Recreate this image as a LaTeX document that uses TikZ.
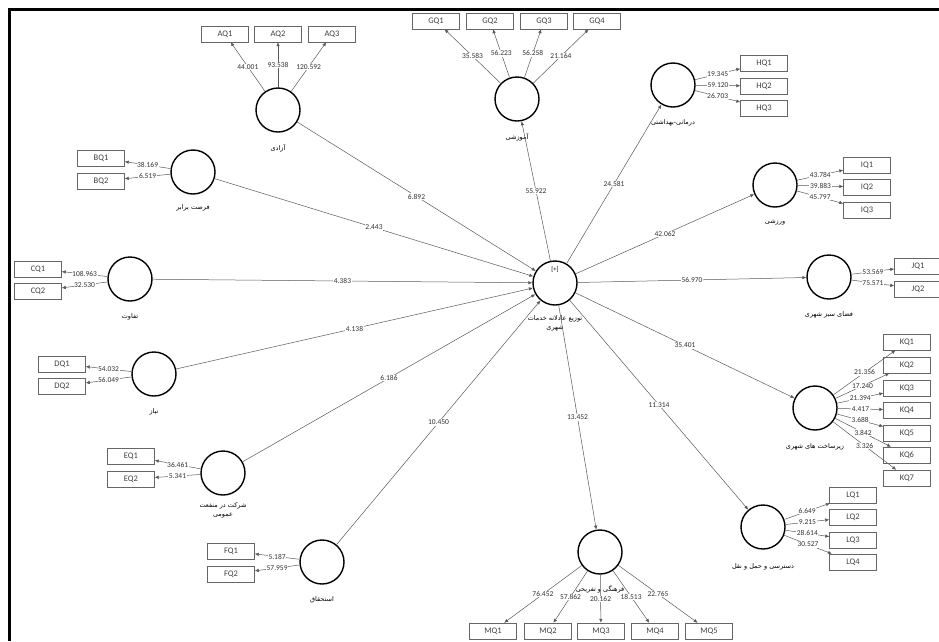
\documentclass[tikz,border=0pt]{standalone}
\usepackage{fontspec}
\setmainfont{Carlito}
\newfontfamily\fafont[Script=Arabic]{DejaVu Sans}
\TeXXeTstate=1
\usepackage{tikz}
\usetikzlibrary{arrows.meta,positioning}
\newcommand{\pers}[1]{{\fafont\beginR#1\endR}}

\begin{document}
\begin{tikzpicture}[x=1pt, y=-1pt,
  lv/.style={circle, draw, line width=1.4pt, minimum size=44pt, inner sep=0pt},
  ind/.style={draw=black!60, minimum width=47pt, minimum height=16pt,
              inner sep=0pt, font=\fontsize{8.5}{9}\selectfont, text=black!75},
  arr/.style={-{Latex[length=4pt,width=3.5pt]}, black!65, line width=0.5pt},
  val/.style={fill=white, inner sep=0.6pt, font=\fontsize{7.5}{8}\selectfont, text=black!80},
  lvname/.style={font=\fontsize{6.5}{9}\selectfont, align=center}
]
\useasboundingbox (0,0) rectangle (939,641);
\draw[line width=3pt] (9.5,641) -- (9.5,9.5) -- (939,9.5);

\node[lv] (hub) at (555,283) {};
\node[font=\fontsize{6.5}{7}\selectfont, below=3pt of hub.north] (plus) {[+]};
\node[lvname, below=6pt of hub] (hubname)
  {\pers{توزیع عادلانه خدمات}\\\pers{شهری}};

\node[lv] (A) at (278,110) {};
\node[lvname, below=8pt of A] (Aname) {\pers{آزادی}};
\node[lv] (B) at (193,172) {};
\node[lvname, below=6pt of B] (Bname) {\pers{فرصت برابر}};
\node[lv] (C) at (130,279) {};
\node[lvname, below=8pt of C] (Cname) {\pers{تفاوت}};
\node[lv] (D) at (154,374) {};
\node[lvname, below=8pt of D] (Dname) {\pers{نیاز}};
\node[lv] (E) at (223,473) {};
\node[lvname, below=3pt of E] (Ename) {\pers{شرکت در منفعت}\\\pers{عمومی}};
\node[lv] (F) at (322,562) {};
\node[lvname, below=8pt of F] (Fname) {\pers{استحقاق}};

\node[lv] (G) at (517,99) {};
\node[lvname, below=8pt of G] (Gname) {\pers{آموزشی}};
\node[lv] (H) at (673,85) {};
\node[lvname, below=8pt of H] (Hname) {\pers{درمانی-بهداشتی}};
\node[lv] (I) at (775,185) {};
\node[lvname, below=8pt of I] (Iname) {\pers{ورزشی}};
\node[lv] (J) at (829,277) {};
\node[lvname, below=8pt of J] (Jname) {\pers{فضای سبز شهری}};
\node[lv] (K) at (815,408) {};
\node[lvname, below=9pt of K] (Kname) {\pers{زیرساخت های شهری}};
\node[lv] (L) at (763,527) {};
\node[lvname, below=10pt of L] (Lname) {\pers{دسترسی و حمل و نقل}};
\node[lv] (M) at (600,552) {};
\node[lvname, below=7pt of M] (Mname) {\pers{فرهنگی و تفریحی}};

\node[ind] (AQ1) at (225,34) {AQ1};
\node[ind] (AQ2) at (278,34) {AQ2};
\node[ind] (AQ3) at (332,34) {AQ3};
\node[ind] (BQ1) at (101,158) {BQ1};
\node[ind] (BQ2) at (101,181) {BQ2};
\node[ind] (CQ1) at (38,269) {CQ1};
\node[ind] (CQ2) at (38,291) {CQ2};
\node[ind] (DQ1) at (62,364) {DQ1};
\node[ind] (DQ2) at (62,386) {DQ2};
\node[ind] (EQ1) at (131,456) {EQ1};
\node[ind] (EQ2) at (131,479) {EQ2};
\node[ind] (FQ1) at (231,551) {FQ1};
\node[ind] (FQ2) at (231,574) {FQ2};
\node[ind] (GQ1) at (436,21) {GQ1};
\node[ind] (GQ2) at (490,21) {GQ2};
\node[ind] (GQ3) at (544,21) {GQ3};
\node[ind] (GQ4) at (597,21) {GQ4};
\node[ind] (HQ1) at (764,63) {HQ1};
\node[ind] (HQ2) at (764,86) {HQ2};
\node[ind] (HQ3) at (764,108) {HQ3};
\node[ind] (IQ1) at (867,165) {IQ1};
\node[ind] (IQ2) at (867,187) {IQ2};
\node[ind] (IQ3) at (867,210) {IQ3};
\node[ind] (JQ1) at (918,266) {JQ1};
\node[ind] (JQ2) at (918,289) {JQ2};
\node[ind] (KQ1) at (907,342) {KQ1};
\node[ind] (KQ2) at (907,365) {KQ2};
\node[ind] (KQ3) at (907,388) {KQ3};
\node[ind] (KQ4) at (907,410) {KQ4};
\node[ind] (KQ5) at (907,433) {KQ5};
\node[ind] (KQ6) at (907,455) {KQ6};
\node[ind] (KQ7) at (907,478) {KQ7};
\node[ind] (LQ1) at (853,495) {LQ1};
\node[ind] (LQ2) at (853,517) {LQ2};
\node[ind] (LQ3) at (853,540) {LQ3};
\node[ind] (LQ4) at (853,562) {LQ4};
\node[ind] (MQ1) at (493,631) {MQ1};
\node[ind] (MQ2) at (548,631) {MQ2};
\node[ind] (MQ3) at (601,631) {MQ3};
\node[ind] (MQ4) at (655,631) {MQ4};
\node[ind] (MQ5) at (709,631) {MQ5};

\draw[arr] (A) -- node[val] {6.892} (hub);
\draw[arr] (B) -- node[val] {2.443} (hub);
\draw[arr] (C) -- node[val] {4.383} (hub);
\draw[arr] (D) -- node[val] {4.138} (hub);
\draw[arr] (E) -- node[val] {6.186} (hub);
\draw[arr] (F) -- node[val] {10.450} (hub);
\draw[arr] (hub) -- node[val] {55.922} (G);
\draw[arr] (hub) -- node[val] {24.581} (H);
\draw[arr] (hub) -- node[val] {42.062} (I);
\draw[arr] (hub) -- node[val] {56.970} (J);
\draw[arr] (hub) -- node[val] {35.401} (K);
\draw[arr] (hub) -- node[val] {11.314} (L);
\draw[arr] (hub) -- node[val] {13.452} (M);

\draw[arr] (A) -- node[val] {44.001} (AQ1);
\draw[arr] (A) -- node[val] {93.538} (AQ2);
\draw[arr] (A) -- node[val] {120.592} (AQ3);
\draw[arr] (B) -- node[val] {38.169} (BQ1);
\draw[arr] (B) -- node[val] {6.519} (BQ2);
\draw[arr] (C) -- node[val] {108.963} (CQ1);
\draw[arr] (C) -- node[val] {32.530} (CQ2);
\draw[arr] (D) -- node[val] {54.032} (DQ1);
\draw[arr] (D) -- node[val] {56.049} (DQ2);
\draw[arr] (E) -- node[val] {36.461} (EQ1);
\draw[arr] (E) -- node[val] {5.341} (EQ2);
\draw[arr] (F) -- node[val] {5.187} (FQ1);
\draw[arr] (F) -- node[val] {57.959} (FQ2);
\draw[arr] (G) -- node[val] {35.583} (GQ1);
\draw[arr] (G) -- node[val] {56.223} (GQ2);
\draw[arr] (G) -- node[val] {56.258} (GQ3);
\draw[arr] (G) -- node[val] {21.164} (GQ4);
\draw[arr] (H) -- node[val] {19.345} (HQ1);
\draw[arr] (H) -- node[val] {59.120} (HQ2);
\draw[arr] (H) -- node[val] {26.703} (HQ3);
\draw[arr] (I) -- node[val] {43.784} (IQ1);
\draw[arr] (I) -- node[val] {39.883} (IQ2);
\draw[arr] (I) -- node[val] {45.797} (IQ3);
\draw[arr] (J) -- node[val] {53.569} (JQ1);
\draw[arr] (J) -- node[val] {75.571} (JQ2);
\draw[arr] (K) -- node[val] {21.356} (KQ1);
\draw[arr] (K) -- node[val] {17.240} (KQ2);
\draw[arr] (K) -- node[val] {21.394} (KQ3);
\draw[arr] (K) -- node[val] {4.417} (KQ4);
\draw[arr] (K) -- node[val] {3.688} (KQ5);
\draw[arr] (K) -- node[val] {3.842} (KQ6);
\draw[arr] (K) -- node[val] {3.326} (KQ7);
\draw[arr] (L) -- node[val] {6.649} (LQ1);
\draw[arr] (L) -- node[val] {9.215} (LQ2);
\draw[arr] (L) -- node[val] {28.614} (LQ3);
\draw[arr] (L) -- node[val] {30.527} (LQ4);
\draw[arr] (M) -- node[val] {76.452} (MQ1);
\draw[arr] (M) -- node[val] {57.862} (MQ2);
\draw[arr] (M) -- node[val] {20.162} (MQ3);
\draw[arr] (M) -- node[val] {18.513} (MQ4);
\draw[arr] (M) -- node[val] {22.765} (MQ5);
\end{tikzpicture}
\end{document}
